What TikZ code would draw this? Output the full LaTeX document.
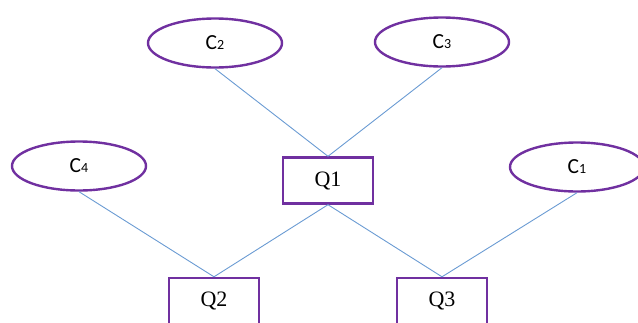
\documentclass[tikz,border=0pt]{standalone}
\usepackage{fontspec}
\usepackage{xcolor}
\usetikzlibrary{shapes.geometric}
\newfontfamily\cfont{Carlito}
\newfontfamily\qfont{Liberation Serif}
\definecolor{purple}{HTML}{7030A0}
\definecolor{link}{HTML}{6A9BD3}

\begin{document}
\begin{tikzpicture}[
  x=1pt, y=-1pt,
  cell/.style={ellipse, draw=purple, line width=2.4pt, minimum width=134pt, minimum height=49pt, inner sep=0pt, font=\cfont\fontsize{21.5}{21.5}\selectfont},
  qbox/.style={draw=purple, line width=2.4pt, minimum width=90pt, minimum height=46pt, inner sep=0pt, font=\qfont\fontsize{22}{22}\selectfont},
  wire/.style={draw=link, line width=0.9pt}
]
\useasboundingbox (0,0) rectangle (638,322);
\node[cell] (c2) at (215,43) {C{\fontsize{14}{14}\selectfont 2}};
\node[cell] (c3) at (442,42) {C{\fontsize{14}{14}\selectfont 3}};
\node[cell] (c4) at (79,166) {C{\fontsize{14}{14}\selectfont 4}};
\node[cell] (c1) at (577,167) {C{\fontsize{14}{14}\selectfont 1}};
\node[qbox] (q1) at (328,180.5) {Q1};
\node[qbox] (q2) at (214,301) {Q2};
\node[qbox] (q3) at (442,301) {Q3};
\draw[wire] (c2.south) -- (q1.north);
\draw[wire] (c3.south) -- (q1.north);
\draw[wire] (c4.south) -- (q2.north);
\draw[wire] (c1.south) -- (q3.north);
\draw[wire] (q1.south) -- (q2.north);
\draw[wire] (q1.south) -- (q3.north);
\end{tikzpicture}
\end{document}
